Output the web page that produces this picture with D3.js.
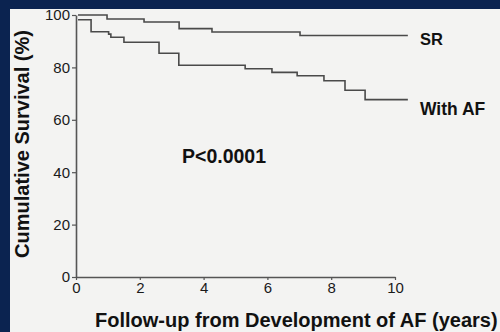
<!DOCTYPE html>
<html>
<head>
<meta charset="utf-8">
<script src="https://cdn.jsdelivr.net/npm/d3@7"></script>
<style>
  html, body { margin: 0; padding: 0; background: #0b2350; }
  svg { display: block; }
</style>
</head>
<body>
<script>
// size of the picture
var width = 500;
var height = 332;

// Kaplan-Meier steps (years, % surviving)
var srTimes = [0, 0.91, 2.07, 3.17, 4.2, 6.96];
var srSurvival = [100, 98.5, 97.3, 94.8, 93.5, 92.2];
var afTimes = [0, 0.41, 0.96, 1.03, 1.44, 2.54, 3.16, 5.24, 6.08, 6.87, 7.71, 8.37, 9.0];
var afSurvival = [98.2, 93.6, 92.7, 91.5, 89.6, 85.4, 80.8, 79.5, 78.1, 76.8, 74.9, 71.3, 67.7];
var followUpEnd = 10.34;

var xTicks = [0, 2, 4, 6, 8, 10];
var yTicks = [0, 20, 40, 60, 80, 100];
var seriesLabels = ["SR", "With AF"];

var x = d3.scaleLinear().domain([0, 10]).range([76, 395]);
var y = d3.scaleLinear().domain([0, 100]).range([277, 15]);

var svg = d3.select("body").append("svg")
  .attr("width", width)
  .attr("height", height);

// light panel inside the navy frame
svg.append("rect")
  .attr("x", 10)
  .attr("y", 9)
  .attr("width", width - 10)
  .attr("height", height - 9)
  .attr("fill", "#f3f3f2");

// axes
var xAxis = svg.append("g")
  .attr("transform", "translate(0," + y(0) + ")")
  .call(d3.axisBottom(x).tickValues(xTicks).tickSize(3).tickSizeOuter(0).tickPadding(2));

var yAxis = svg.append("g")
  .attr("transform", "translate(" + x(0) + ",0)")
  .call(d3.axisLeft(y).tickValues(yTicks).tickSize(4).tickSizeOuter(0).tickPadding(2));

[xAxis, yAxis].forEach(function(ax) {
  ax.select(".domain").attr("stroke", "#555").attr("stroke-width", 1.6);
  ax.selectAll(".tick line").attr("stroke", "#555").attr("stroke-width", 1.2);
  ax.selectAll(".tick text")
    .attr("fill", "#1a1a1a")
    .style("font-family", "'Liberation Sans', Arial, sans-serif")
    .style("font-size", "15px");
});

// build step curves from the arrays
function steps(times, surv) {
  var pts = times.map(function(t, i) { return { t: t, s: surv[i] }; });
  pts.push({ t: followUpEnd, s: surv[surv.length - 1] });
  return pts;
}

var line = d3.line()
  .curve(d3.curveStepAfter)
  .x(function(d) { return x(d.t); })
  .y(function(d) { return y(d.s); });

var curves = [steps(srTimes, srSurvival), steps(afTimes, afSurvival)];

svg.selectAll("path.km")
  .data(curves)
  .enter()
  .append("path")
  .attr("class", "km")
  .attr("fill", "none")
  .attr("stroke", "#4a4a4a")
  .attr("stroke-width", 1.6)
  .attr("transform", "translate(2,0)")
  .attr("d", line);

// series labels at the right end of each curve
var boldFont = "'Liberation Sans', Arial, sans-serif";
svg.selectAll("text.series")
  .data(seriesLabels)
  .enter()
  .append("text")
  .attr("class", "series")
  .attr("x", 420)
  .attr("y", function(d, i) { return i === 0 ? 45 : 115; })
  .attr("fill", "#111")
  .style("font-family", boldFont)
  .style("font-weight", "bold")
  .style("font-size", function(d, i) { return i === 0 ? "16.5px" : "17.5px"; })
  .text(function(d) { return d; });

svg.append("text")
  .attr("x", 182)
  .attr("y", 163)
  .attr("fill", "#111")
  .style("font-family", boldFont)
  .style("font-weight", "bold")
  .style("font-size", "19.5px")
  .text("P<0.0001");

// axis titles
svg.append("text")
  .attr("transform", "translate(29,144) rotate(-90)")
  .attr("text-anchor", "middle")
  .attr("fill", "#111")
  .style("font-family", boldFont)
  .style("font-weight", "bold")
  .style("font-size", "20px")
  .text("Cumulative Survival (%)");

svg.append("text")
  .attr("x", 95)
  .attr("y", 327)
  .attr("fill", "#111")
  .style("font-family", boldFont)
  .style("font-weight", "bold")
  .style("font-size", "20px")
  .text("Follow-up from Development of AF (years)");
</script>
</body>
</html>
